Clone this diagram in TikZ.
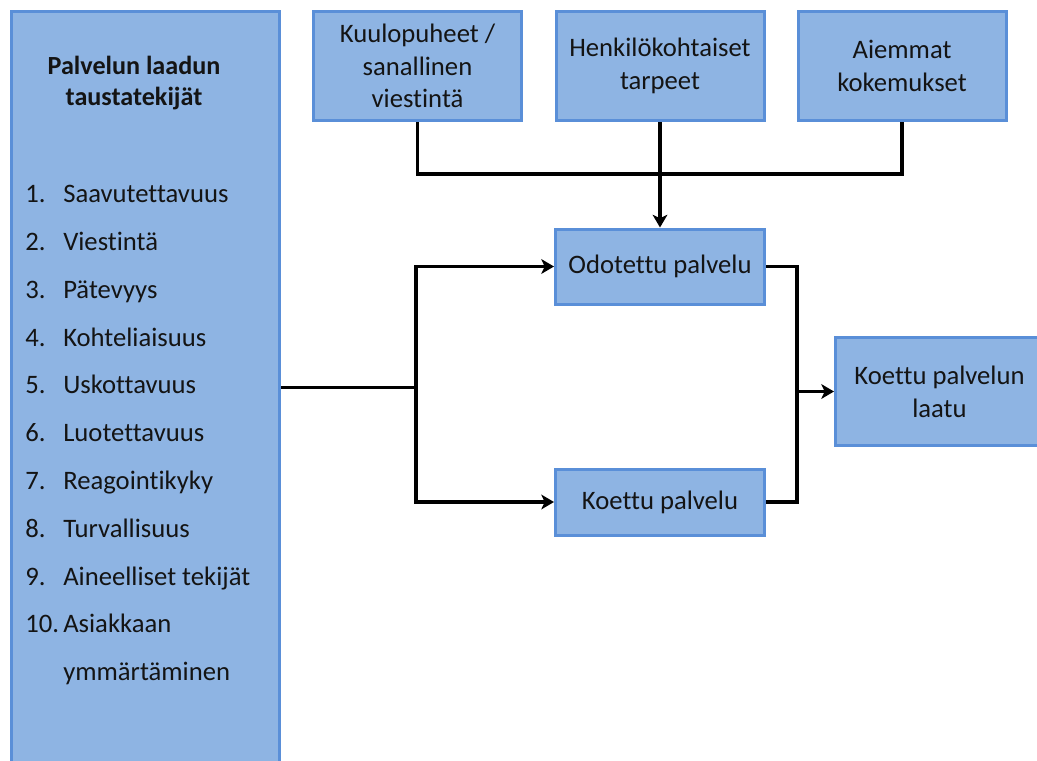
\documentclass[tikz,border=0pt]{standalone}
\usepackage{fontspec}
\setmainfont{Carlito}[Ligatures=NoCommon]
\usetikzlibrary{arrows.meta}
\definecolor{boxfill}{HTML}{8EB4E3}
\definecolor{boxline}{HTML}{5A8FD8}
\definecolor{txt}{HTML}{141414}
\tikzset{
  bluebox/.style={draw=boxline, line width=2.25pt, fill=boxfill, align=center,
    text=txt, font=\fontsize{20}{24.5}\selectfont, inner sep=0pt},
  topbox/.style={bluebox, minimum width=156pt, minimum height=81.75pt},
  conn/.style={line width=2.5pt, draw=black},
  arr/.style={conn, -{Stealth[length=9.5pt,width=11pt,inset=2.5pt]}},
  item/.style={anchor=base west, text=txt, font=\fontsize{20}{24}\selectfont, inner sep=0pt},
}
\begin{document}
\begin{tikzpicture}[x=0.75pt, y=-0.75pt]
\clip (0,0) rectangle (1037,760);
\fill[white] (0,0) rectangle (1037,760);
% left box
\node[bluebox, minimum width=201pt, minimum height=564pt] (left) at (145.5,387.5) {};
\node[anchor=center, align=center, text=txt, font=\fontsize{19.6}{23.5}\selectfont\bfseries] (title) at (134,83) {Palvelun laadun\\taustatekijät};
\node[item] (n1) at (25,202) {1.};   \node[item] (t1) at (63,202) {Saavutettavuus};
\node[item] (n2) at (25,250) {2.};   \node[item] (t2) at (63,250) {Viestintä};
\node[item] (n3) at (25,298) {3.};   \node[item] (t3) at (63,298) {Pätevyys};
\node[item] (n4) at (25,346) {4.};   \node[item] (t4) at (63,346) {Kohteliaisuus};
\node[item] (n5) at (25,393) {5.};   \node[item] (t5) at (63,393) {Uskottavuus};
\node[item] (n6) at (25,441) {6.};   \node[item] (t6) at (63,441) {Luotettavuus};
\node[item] (n7) at (25,489) {7.};   \node[item] (t7) at (63,489) {Reagointikyky};
\node[item] (n8) at (25,537) {8.};   \node[item] (t8) at (63,537) {Turvallisuus};
\node[item] (n9) at (25,585) {9.};   \node[item] (t9) at (63,585) {Aineelliset tekijät};
\node[item] (n10) at (25,632) {10.}; \node[item] (t10) at (63,632) {Asiakkaan};
\node[item] (t11) at (63,680) {ymmärtäminen};
% top boxes
\node[topbox] (kuulo) at (417.5,66) {Kuulopuheet /\\sanallinen\\viestintä};
\node[topbox] (henk) at (660,66) {Henkilökohtaiset\\tarpeet};
\node[topbox] (aiem) at (902,66) {Aiemmat\\kokemukset};
% middle boxes
\node[bluebox, minimum width=156.75pt, minimum height=56.25pt] (odo) at (660,266.5) {Odotettu palvelu};
\node[bluebox, minimum width=156.75pt, minimum height=49.5pt] (koe) at (660,502) {Koettu palvelu};
\node[bluebox, minimum width=156pt, minimum height=81pt] (laatu) at (939.5,391.5) {Koettu palvelun\\laatu};
% connectors
\coordinate (h) at (660,174);
\coordinate (j) at (416,387.5);
\coordinate (m) at (797,391.5);
\draw[conn] (kuulo.south) |- (h);
\draw[conn] (aiem.south) |- (h);
\draw[arr] (henk.south) -- (odo.north);
\draw[conn] (left.east) -- (j);
\draw[arr] (j) |- (odo.west);
\draw[arr] (j) |- (koe.west);
\draw[conn] (odo.east) -| (m);
\draw[conn] (koe.east) -| (m);
\draw[arr] (m) -- (laatu.west);
\end{tikzpicture}
\end{document}
